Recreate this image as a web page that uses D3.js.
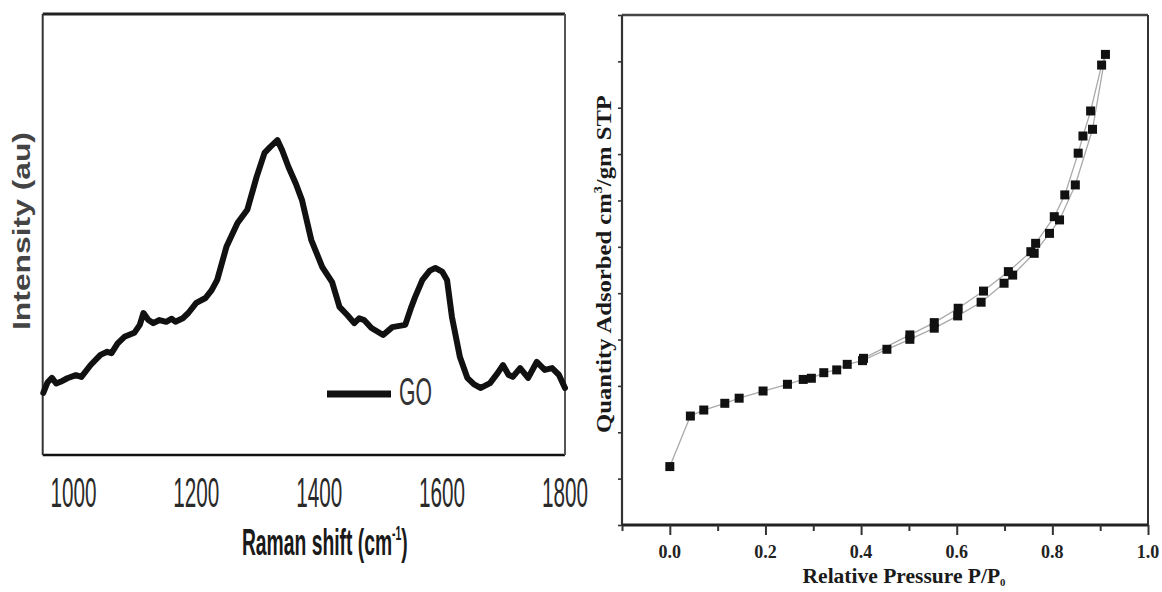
<!DOCTYPE html>
<html>
<head>
<meta charset="utf-8">
<script src="https://cdn.jsdelivr.net/npm/d3@7"></script>
<style>
  html, body { margin: 0; padding: 0; background: #fff; }
  svg { display: block; }
</style>
</head>
<body>
<svg id="chart" width="1162" height="592"></svg>
<script>
// ---------- Left panel: Raman spectrum of GO ----------
const ramanShift = [951, 958, 965, 972, 979, 990, 1004, 1013, 1028, 1044, 1055, 1062, 1072, 1083, 1099, 1108, 1114, 1122, 1130, 1140, 1151, 1160, 1166, 1178, 1187, 1200, 1215, 1225, 1234, 1249, 1267, 1283, 1298, 1311, 1320, 1332, 1340, 1350, 1362, 1372, 1387, 1405, 1421, 1433, 1446, 1457, 1465, 1473, 1485, 1504, 1519, 1540, 1550, 1556, 1568, 1580, 1589, 1600, 1608, 1616, 1629, 1641, 1652, 1663, 1678, 1690, 1699, 1708, 1715, 1727, 1740, 1754, 1767, 1779, 1790, 1800];
const intensity  = [14.1, 16.5, 17.5, 16.2, 16.6, 17.4, 18.1, 17.7, 20.4, 22.7, 23.4, 23.1, 25.3, 26.8, 27.7, 29.5, 32.2, 30.6, 29.9, 30.6, 30.2, 30.9, 30.2, 31.0, 32.2, 34.5, 35.6, 37.4, 39.7, 47.2, 52.6, 55.6, 63.0, 68.5, 69.8, 71.4, 69.0, 65.3, 61.5, 57.8, 48.8, 42.6, 39.2, 33.6, 31.7, 29.9, 31.0, 30.6, 28.8, 27.2, 29.0, 29.5, 33.6, 35.8, 39.7, 41.8, 42.4, 41.6, 39.7, 31.3, 22.2, 17.5, 16.0, 15.2, 16.3, 18.5, 20.4, 18.2, 17.7, 19.7, 17.5, 21.1, 19.3, 19.7, 18.2, 15.2];
const ramanTicks = [1000, 1200, 1400, 1600, 1800];
const legendLabel = "GO";

// ---------- Right panel: N2 adsorption/desorption isotherm ----------
const pressureAds = [0.0, 0.043, 0.071, 0.115, 0.145, 0.195, 0.246, 0.279, 0.296, 0.322, 0.349, 0.371, 0.403, 0.454, 0.502, 0.553, 0.602, 0.651, 0.699, 0.717, 0.762, 0.794, 0.815, 0.848, 0.884, 0.911];
const quantityAds = [25.2, 47.0, 49.6, 52.5, 54.7, 57.8, 60.7, 62.8, 63.3, 65.7, 66.9, 69.3, 70.9, 75.8, 80.1, 84.9, 90.2, 96.1, 104.3, 107.8, 117.2, 125.8, 131.6, 146.7, 170.7, 203.0];
const pressureDes = [0.903, 0.880, 0.864, 0.854, 0.826, 0.804, 0.765, 0.755, 0.708, 0.656, 0.603, 0.553, 0.502, 0.405];
const quantityDes = [198.4, 178.6, 167.8, 160.4, 142.4, 133.0, 121.5, 117.9, 109.3, 100.9, 93.5, 87.3, 82.0, 71.9];
const pressureTicks = [0.0, 0.2, 0.4, 0.6, 0.8, 1.0];
const pressureMinorTicks = [-0.1, 0.1, 0.3, 0.5, 0.7, 0.9];
const quantityTicks = d3.range(0, 221, 20);

const svg = d3.select("#chart");

// helper: squeeze/stretch a text to a target length
function fitText(sel, target, tx, ty, rot) {
  const w = sel.node().getComputedTextLength();
  const s = target / w;
  sel.attr("transform", `translate(${tx},${ty}) rotate(${rot || 0}) scale(${s},1)`);
}

// ===== Left panel =====
const xL = d3.scaleLinear().domain([950, 1800]).range([42.7, 565]);
const yL = d3.scaleLinear().domain([0, 100]).range([455, 14]);
const gL = svg.append("g");

// frame
const [l0, l1] = xL.range();
const [b0, t0] = yL.range();
gL.append("line").attr("x1", l0).attr("x2", l1).attr("y1", t0).attr("y2", t0).attr("stroke", "#222").attr("stroke-width", 3.2);
gL.append("line").attr("x1", l0).attr("x2", l1).attr("y1", b0).attr("y2", b0).attr("stroke", "#111").attr("stroke-width", 2.6);
gL.append("line").attr("x1", l0).attr("x2", l0).attr("y1", t0).attr("y2", b0).attr("stroke", "#333").attr("stroke-width", 2);
gL.append("line").attr("x1", l1).attr("x2", l1).attr("y1", t0).attr("y2", b0).attr("stroke", "#555").attr("stroke-width", 2);

// spectrum
const ramanData = ramanShift.map((d, i) => [d, intensity[i]]);
gL.append("path")
  .datum(ramanData)
  .attr("fill", "none")
  .attr("stroke", "#111")
  .attr("stroke-width", 6)
  .attr("stroke-linejoin", "round")
  .attr("stroke-linecap", "round")
  .attr("d", d3.line().x(d => xL(d[0])).y(d => yL(d[1])));

// tick labels
ramanTicks.forEach(t => {
  const tx = gL.append("text")
    .attr("text-anchor", "middle")
    .attr("font-family", "Liberation Sans, Arial, sans-serif")
    .attr("font-size", 42)
    .attr("fill", "#2a2a2a")
    .text(t);
  fitText(tx, 46, xL(t), 507);
});

// x title
const xt = gL.append("text")
  .attr("text-anchor", "middle")
  .attr("font-family", "Liberation Sans, Arial, sans-serif")
  .attr("font-weight", "bold")
  .attr("font-size", 37)
  .attr("fill", "#1a1a1a");
xt.append("tspan").text("Raman shift (cm");
xt.append("tspan").attr("font-size", 20).attr("dy", -15).text("-1");
xt.append("tspan").attr("dy", 15).text(")");
fitText(xt, 166, (l0 + l1) / 2 + 21, 555);

// y title
const yt = gL.append("text")
  .attr("text-anchor", "middle")
  .attr("font-family", "Liberation Sans, Arial, sans-serif")
  .attr("font-weight", "bold")
  .attr("font-size", 24)
  .attr("fill", "#444")
  .text("Intensity (au)");
fitText(yt, 198, 30, 231, -90);

// legend
gL.append("line").attr("x1", 327).attr("x2", 391).attr("y1", 394).attr("y2", 394)
  .attr("stroke", "#111").attr("stroke-width", 7);
const lg = gL.append("text")
  .attr("font-family", "Liberation Sans, Arial, sans-serif")
  .attr("font-size", 38)
  .attr("fill", "#333")
  .text(legendLabel);
fitText(lg, 33, 399, 405);

// ===== Right panel =====
const xR = d3.scaleLinear().domain([-0.1, 1.0]).range([622, 1148]);
const yR = d3.scaleLinear().domain([0, 220]).range([525, 15]);
const gR = svg.append("g");
const [r0, r1] = xR.range();
const [rb, rt] = yR.range();

gR.append("line").attr("x1", r0).attr("x2", r1).attr("y1", rt).attr("y2", rt).attr("stroke", "#444").attr("stroke-width", 2.4);
gR.append("line").attr("x1", r1).attr("x2", r1).attr("y1", rt).attr("y2", rb).attr("stroke", "#333").attr("stroke-width", 2);
gR.append("line").attr("x1", r0).attr("x2", r0).attr("y1", rt).attr("y2", rb).attr("stroke", "#333").attr("stroke-width", 2.2);
gR.append("line").attr("x1", r0).attr("x2", r1).attr("y1", rb).attr("y2", rb).attr("stroke", "#222").attr("stroke-width", 2.8);

// x axis ticks
gR.append("g")
  .attr("transform", `translate(0,${rb})`)
  .call(d3.axisBottom(xR).tickValues(pressureTicks).tickSize(10).tickFormat(""))
  .call(g => g.select(".domain").remove())
  .call(g => g.selectAll("line").attr("stroke", "#333").attr("stroke-width", 2));
gR.append("g")
  .attr("transform", `translate(0,${rb})`)
  .call(d3.axisBottom(xR).tickValues(pressureMinorTicks).tickSize(6).tickFormat(""))
  .call(g => g.select(".domain").remove())
  .call(g => g.selectAll("line").attr("stroke", "#333").attr("stroke-width", 2));
pressureTicks.forEach(t => {
  gR.append("text")
    .attr("x", xR(t)).attr("y", 558)
    .attr("text-anchor", "middle")
    .attr("font-family", "Liberation Serif, Times New Roman, serif")
    .attr("font-weight", "bold")
    .attr("font-size", 18)
    .attr("fill", "#222")
    .text(d3.format(".1f")(t));
});

// y axis ticks
gR.append("g")
  .attr("transform", `translate(${r0},0)`)
  .call(d3.axisLeft(yR).tickValues(quantityTicks).tickSize(4).tickFormat(""))
  .call(g => g.select(".domain").remove())
  .call(g => g.selectAll("line").attr("stroke", "#333").attr("stroke-width", 1.6));

// lines
const ads = pressureAds.map((d, i) => [d, quantityAds[i]]);
const des = [ads[ads.length - 1]].concat(pressureDes.map((d, i) => [d, quantityDes[i]]));
const lineR = d3.line().x(d => xR(d[0])).y(d => yR(d[1]));
[ads, des].forEach(s => {
  gR.append("path").datum(s).attr("fill", "none").attr("stroke", "#aaa").attr("stroke-width", 1.3).attr("d", lineR);
});
// markers
const sq = 9;
[ads, des.slice(1)].forEach(s => {
  gR.selectAll(null).data(s).enter().append("rect")
    .attr("x", d => xR(d[0]) - sq / 2)
    .attr("y", d => yR(d[1]) - sq / 2)
    .attr("width", sq).attr("height", sq)
    .attr("fill", "#111");
});

// x title
const rx = gR.append("text")
  .attr("text-anchor", "middle")
  .attr("font-family", "Liberation Serif, Times New Roman, serif")
  .attr("font-weight", "bold")
  .attr("font-size", 22)
  .attr("fill", "#1a1a1a");
rx.append("tspan").text("Relative Pressure P/P");
rx.append("tspan").attr("font-size", 11).attr("dy", 3).text("0");
fitText(rx, 203, 904, 583);

// y title
const ry = gR.append("text")
  .attr("text-anchor", "middle")
  .attr("font-family", "Liberation Serif, Times New Roman, serif")
  .attr("font-weight", "bold")
  .attr("font-size", 21)
  .attr("fill", "#1a1a1a");
ry.append("tspan").text("Quantity Adsorbed cm");
ry.append("tspan").attr("font-size", 12).attr("dy", -9).text("3");
ry.append("tspan").attr("dy", 9).text("/gm STP");
fitText(ry, 338, 611, 264, -90);
</script>
</body>
</html>
